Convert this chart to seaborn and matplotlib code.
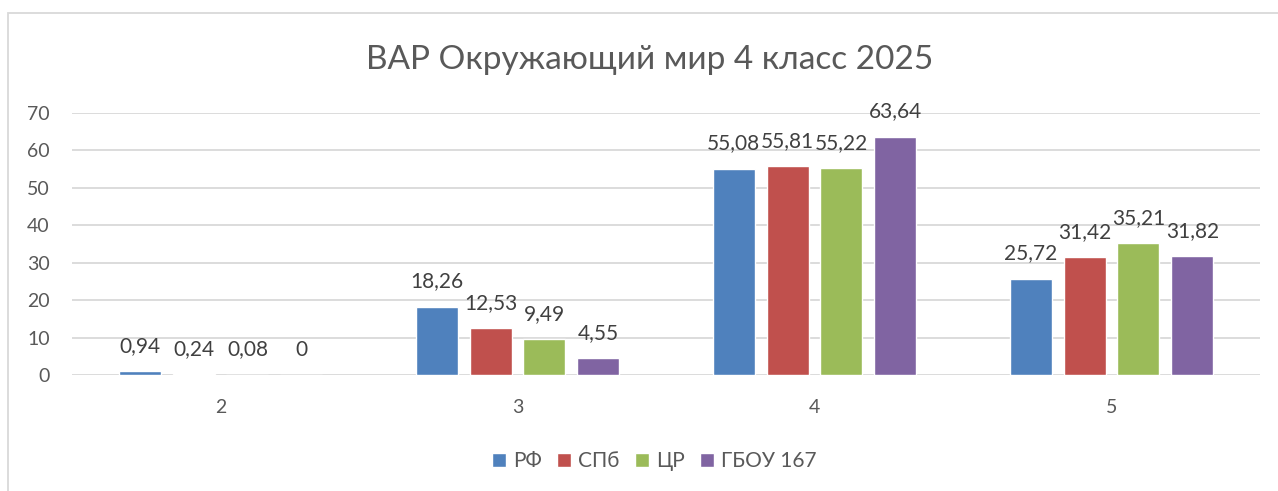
from matplotlib import pyplot as plt
from matplotlib.patches import Rectangle
import pandas as pd
import seaborn as sns

# данные с диаграммы
grades = ['2', '3', '4', '5']
rf = [0.94, 18.26, 55.08, 25.72]
spb = [0.24, 12.53, 55.81, 31.42]
cr = [0.08, 9.49, 55.22, 35.21]
school = [0, 4.55, 63.64, 31.82]
series = ['РФ', 'СПб', 'ЦР', 'ГБОУ 167']
colors = ['#4F81BD', '#C0504D', '#9BBB59', '#8064A2']

rows = []
for name, vals in zip(series, [rf, spb, cr, school]):
    for g, v in zip(grades, vals):
        rows.append({'grade': g, 'series': name, 'value': v})
df = pd.DataFrame(rows)

sns.set_style('white')
plt.rcParams['font.family'] = ['Lato', 'Noto Sans', 'DejaVu Sans']
txt = '#595959'

fig = plt.figure(figsize=(12.78, 4.91), dpi=100)
ax = fig.add_axes([72 / 1278, 1 - 375 / 491, 1188 / 1278, 262 / 491])

sns.barplot(data=df, x='grade', y='value', hue='series', order=grades,
            hue_order=series, palette=colors, errorbar=None,
            width=0.727, gap=0.222, saturation=1, ax=ax)

for cont in ax.containers:
    ax.bar_label(cont, fmt=lambda v: ('%g' % round(v, 2)).replace('.', ','),
                 padding=11, fontsize=15, color='#404040')

ax.set_ylim(0, 70)
ax.set_yticks(range(0, 71, 10))
ax.yaxis.grid(True, color='#d9d9d9', linewidth=1.3)
ax.set_axisbelow(True)
for s in ax.spines.values():
    s.set_visible(False)
ax.tick_params(axis='y', length=0, pad=16, labelsize=14, labelcolor=txt)
ax.tick_params(axis='x', length=0, pad=17, labelsize=14, labelcolor=txt)
ax.set_xlabel('')
ax.set_ylabel('')

sns.move_legend(ax, 'center', bbox_to_anchor=(0.512, 30 / 491),
                bbox_transform=fig.transFigure, ncol=4, frameon=False,
                title=None, fontsize=15, handlelength=0.65, handleheight=0.65,
                handletextpad=0.35, columnspacing=0.75)
for t in ax.get_legend().get_texts():
    t.set_color(txt)

fig.text(0.508, 1 - 60 / 491, 'ВАР Окружающий мир 4 класс 2025',
         ha='center', va='center', fontsize=24, color=txt)

# рамка области диаграммы
fig.patches.append(Rectangle((8 / 1278, -0.1), 1.5, 1 - 13 / 491 + 0.1,
                             transform=fig.transFigure, fill=False,
                             edgecolor='#d9d9d9', linewidth=1.3))

plt.savefig('out.png', dpi=100)
